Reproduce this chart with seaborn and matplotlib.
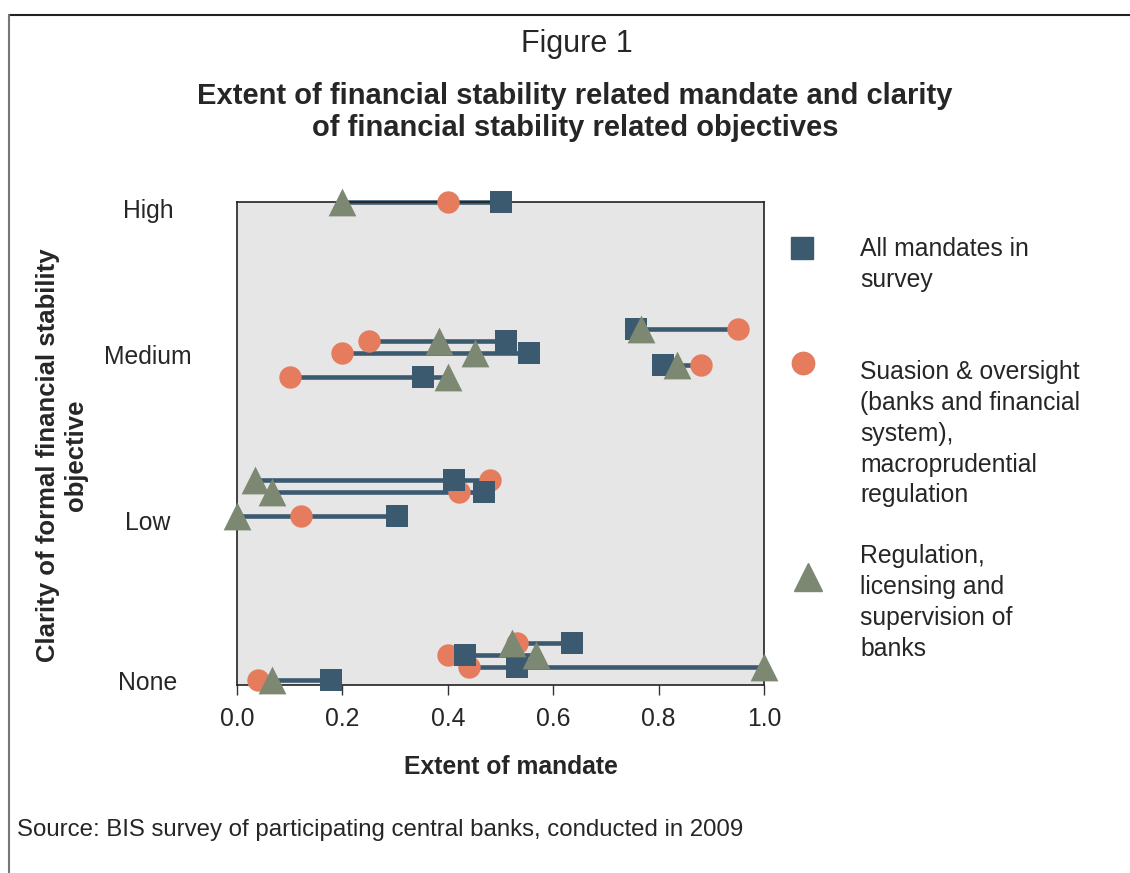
import numpy as np
import pandas as pd
import seaborn as sns
import matplotlib.pyplot as plt

# Datos (una fila por banco central)
clarity = [3.0, 2.13, 2.052, 1.902, 2.205, 1.977, 1.255, 1.18, 1.029, 0.23, 0.157, 0.08, 0.0]
all_mandates = [0.50, 0.51, 0.555, 0.353, 0.757, 0.808, 0.412, 0.469, 0.304, 0.636, 0.433, 0.532, 0.178]
suasion = [0.40, 0.25, 0.20, 0.10, 0.95, 0.88, 0.481, 0.421, 0.121, 0.531, 0.40, 0.44, 0.04]
regulation = [0.20, 0.384, 0.451, 0.401, 0.767, 0.834, 0.034, 0.067, 0.0, 0.521, 0.567, 1.0, 0.067]

series_names = ["Suasion", "All", "Regulation"]
clarity_labels = ["None", "Low", "Medium", "High"]
x_ticks = [0.0, 0.2, 0.4, 0.6, 0.8, 1.0]

c_square = "#3B5A70"
c_circle = "#E57C5E"
c_tri = "#7D8872"

df = pd.concat([
    pd.DataFrame({"x": suasion, "y": clarity, "serie": "Suasion"}),
    pd.DataFrame({"x": all_mandates, "y": clarity, "serie": "All"}),
    pd.DataFrame({"x": regulation, "y": clarity, "serie": "Regulation"}),
], ignore_index=True)

sns.set_style("white")
plt.rcParams["font.family"] = ["Liberation Sans", "DejaVu Sans"]

fig = plt.figure(figsize=(11.3, 8.73), dpi=100)
ax = fig.add_axes([237 / 1130, 1 - 685 / 873, 527 / 1130, 483 / 873])
ax.set_facecolor("#E6E6E6")

# Líneas entre mínimo y máximo de cada fila
lo = np.minimum.reduce([all_mandates, suasion, regulation])
hi = np.maximum.reduce([all_mandates, suasion, regulation])
ax.hlines(clarity, lo, hi, color=c_square, lw=3.3, zorder=2, clip_on=False)

palette = {"Suasion": c_circle, "All": c_square, "Regulation": c_tri}
markers = {"Suasion": "o", "All": "s", "Regulation": "^"}
sizes = {"Suasion": 260, "All": 260, "Regulation": 400}
for s in series_names:
    sub = df[df["serie"] == s]
    sns.scatterplot(data=sub, x="x", y="y", color=palette[s], marker=markers[s],
                    s=sizes[s], linewidth=0, ax=ax, zorder=3, clip_on=False, legend=False)

ax.set_xlim(0, 1)
ax.set_ylim(-0.031, 3.0)
ax.set_xticks(x_ticks)
ax.set_xticklabels([f"{v:.1f}" for v in x_ticks], fontsize=17.8)
# posiciones de las etiquetas tal como aparecen en el original
ax.set_yticks([0, 1, 2.04, 2.96])
ax.set_yticklabels(clarity_labels, fontsize=17.8, ha="center")
ax.tick_params(axis="x", direction="out", length=7, width=1, color="#333333", pad=9, bottom=True)
ax.tick_params(axis="y", length=0, pad=64)
ax.set_xlabel("")
ax.set_ylabel("")
for sp in ax.spines.values():
    sp.set_visible(True)
    sp.set_color("#222222")
    sp.set_linewidth(1.2)

# Títulos y etiquetas
fig.text(577 / 1130, 1 - 44 / 873, "Figure 1", ha="center", va="center", fontsize=22)
fig.text(575 / 1130, 1 - 112 / 873,
         "Extent of financial stability related mandate and clarity\nof financial stability related objectives",
         ha="center", va="center", fontsize=21, fontweight="bold", linespacing=1.18)
fig.text(511 / 1130, 1 - 767 / 873, "Extent of mandate", ha="center", va="center",
         fontsize=17.8, fontweight="bold")
fig.text(62 / 1130, 1 - 455 / 873, "Clarity of formal financial stability\nobjective",
         ha="center", va="center", rotation=90, fontsize=18.5, fontweight="bold", linespacing=1.17)
fig.text(17 / 1130, 1 - 830 / 873, "Source: BIS survey of participating central banks, conducted in 2009",
         ha="left", va="center", fontsize=17.3)

# Leyenda manual
leg_items = [
    ("s", c_square, 260, (802, 248), "All mandates in\nsurvey", 248),
    ("o", c_circle, 260, (803, 363), "Suasion & oversight\n(banks and financial\nsystem),\nmacroprudential\nregulation", 371),
    ("^", c_tri, 400, (808, 577), "Regulation,\nlicensing and\nsupervision of\nbanks", 555),
]
for m, c, sz, (px, py), label, ty in leg_items:
    fig.add_artist(plt.Line2D([px / 1130], [1 - py / 873], marker=m, color=c,
                              markersize=np.sqrt(sz), linestyle="none", transform=fig.transFigure))
    fig.text(860 / 1130, 1 - (ty - 11) / 873, label, ha="left", va="top", fontsize=17.8, linespacing=1.36)

# Marco de la figura (arriba e izquierda)
fig.add_artist(plt.Line2D([8.5 / 1130, 1], [1 - 15 / 873, 1 - 15 / 873], color="#222222", lw=1.5,
                          transform=fig.transFigure))
fig.add_artist(plt.Line2D([8.5 / 1130, 8.5 / 1130], [0, 1 - 15 / 873], color="#777777", lw=1.5,
                          transform=fig.transFigure))

fig.savefig("out.png", dpi=100)
